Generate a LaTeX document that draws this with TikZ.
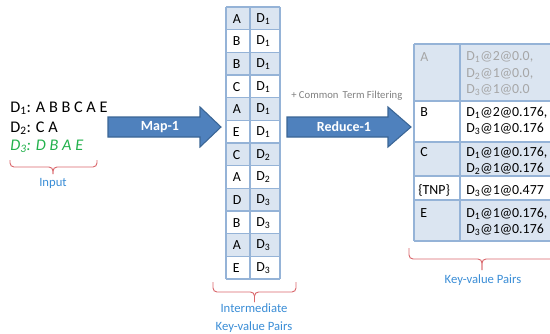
\documentclass[tikz,border=0pt]{standalone}
\usepackage{fontspec}
\setmainfont{Carlito}
\definecolor{cellfill}{HTML}{DBE5F1}
\definecolor{cellline}{HTML}{95B3D7}
\definecolor{arrowfill}{HTML}{4F81BD}
\definecolor{arrowline}{HTML}{3A6595}
\definecolor{labelblue}{HTML}{3A8DD6}
\definecolor{bracered}{HTML}{D9666B}
\definecolor{docgreen}{HTML}{22B14C}
\definecolor{faded}{HTML}{A6A6A6}
\definecolor{notegray}{HTML}{808080}
\newcommand\docid[1]{D\textsubscript{#1}}
\tikzset{
  celltext/.style={inner sep=0pt, font=\fontsize{10.4pt}{12.4pt}\selectfont, text=black},
  multitext/.style={celltext, align=left},
  inputtext/.style={inner sep=0pt, font=\fontsize{12.2pt}{14pt}\selectfont},
  caption/.style={inner sep=0pt, text=labelblue, font=\fontsize{9.5pt}{12pt}\selectfont},
  bracket/.style={draw=bracered, line width=0.7pt, rounded corners=3pt},
  blockarrow/.style={fill=arrowfill, draw=arrowline, line width=0.8pt},
  arrowtext/.style={inner sep=0pt, text=white, font=\bfseries\fontsize{10.5pt}{12pt}\selectfont},
  gridline/.style={draw=cellline, line width=0.9pt}
}
\begin{document}
\begin{tikzpicture}[x=0.75pt,y=-0.75pt]
\useasboundingbox (0,0) rectangle (550,333);
\clip (0,0) rectangle (550,333);

% documents
\node[inputtext, anchor=base west] (doc1) at (10,112.5) {\docid{1}: A B B C A E};
\node[inputtext, anchor=base west] (doc2) at (10,132.5) {\docid{2}: C A};
\node[inputtext, anchor=base west, text=docgreen] (doc3) at (10,150.5) {\itshape\docid{3}: D B A E};
\draw[bracket] (10,160) |- (53,167) -- (53,174);
\draw[bracket] (97,160) |- (53,167) -- (53,174);
\node[caption] (inlabel) at (53,183) {Input};

% map arrow
\draw[blockarrow] (108,117) -- (200,117) -- (200,107) -- (221,127) -- (200,147) -- (200,137) -- (108,137) -- cycle;
\node[arrowtext] (maplabel) at (160,127) {Map-1};

% intermediate key-value table
\foreach \k/\d [count=\i] in {A/1,B/1,B/1,C/1,A/1,E/1,C/2,A/2,D/3,B/3,A/3,E/3} {
  \pgfmathsetmacro\rowtop{7+(\i-1)*22.667}
  \ifodd\i
    \fill[cellfill] (226,\rowtop) rectangle (280,{\rowtop+22.667});
  \fi
  \node[celltext, anchor=west] (key\i) at (232.5,{\rowtop+11.8}) {\k};
  \node[celltext, anchor=west] (val\i) at (256,{\rowtop+11.8}) {\docid{\d}};
}
\foreach \i in {0,...,12} {
  \draw[gridline] (226,{7+\i*22.667}) -- (280,{7+\i*22.667});
}
\draw[gridline] (226,7) -- (226,279);
\draw[gridline] (250,7) -- (250,279);
\draw[gridline] (280,7) -- (280,279);
\draw[bracket] (213,282) |- (254.5,292) -- (254.5,302);
\draw[bracket] (296,282) |- (254.5,292) -- (254.5,302);
\node[caption] (midlabel1) at (254,308) {Intermediate};
\node[caption] (midlabel2) at (254,327) {Key-value Pairs};

% reduce arrow
\node[inner sep=0pt, text=notegray, font=\fontsize{8pt}{10pt}\selectfont, anchor=west] (filternote) at (291,96) {+ Common\, Term Filtering};
\draw[blockarrow] (287,117) -- (388,117) -- (388,107) -- (411,127) -- (388,147) -- (388,137) -- (287,137) -- cycle;
\node[arrowtext] (reducelabel) at (344,127) {Reduce-1};

% final key-value table
\fill[cellfill] (414,44) rectangle (560,101);
\fill[cellfill] (414,142) rectangle (560,176);
\fill[cellfill] (414,200) rectangle (560,241);
\foreach \y in {44,101,142,176,200,241} {
  \draw[gridline] (414,\y) -- (560,\y);
}
\draw[gridline] (414,44) -- (414,241);
\draw[gridline] (460,44) -- (460,241);

\node[celltext, anchor=base west, text=faded] (rkA) at (420,61.5) {A};
\node[multitext, anchor=north west, text=faded] (rvA) at (466,51.5) {\docid{1}@2@0.0,\\\docid{2}@1@0.0,\\\docid{3}@1@0.0};
\node[celltext, anchor=base west] (rkB) at (420,116.5) {B};
\node[multitext, anchor=north west] (rvB) at (466,106.5) {\docid{1}@2@0.176,\\\docid{3}@1@0.176};
\node[celltext, anchor=base west] (rkC) at (420,156.5) {C};
\node[multitext, anchor=north west] (rvC) at (466,146.5) {\docid{1}@1@0.176,\\\docid{2}@1@0.176};
\node[celltext, anchor=base west] (rkT) at (418,194.5) {\{TNP\}};
\node[celltext, anchor=base west] (rvT) at (466,194.5) {\docid{3}@1@0.477};
\node[celltext, anchor=base west] (rkE) at (420,217.5) {E};
\node[multitext, anchor=north west] (rvE) at (466,207.5) {\docid{1}@1@0.176,\\\docid{3}@1@0.176};

\draw[bracket] (409,248) |- (482,259) -- (482,270);
\draw[bracket] (556,248) |- (482,259) -- (482,270);
\node[caption] (outlabel) at (483,280) {Key-value Pairs};
\end{tikzpicture}
\end{document}
